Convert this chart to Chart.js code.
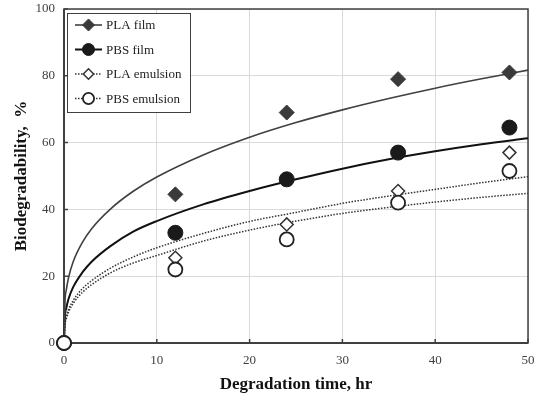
<!DOCTYPE html>
<html>
<head>
<meta charset="utf-8">
<script src="https://cdn.jsdelivr.net/npm/chart.js@4/dist/chart.umd.min.js"></script>
<style>
html,body{margin:0;padding:0;background:#fff;}
#c{display:block;}
</style>
</head>
<body>
<canvas id="c" width="540" height="395"></canvas>
<script>
// ---- data ----
const timeHr = [0, 12, 24, 36, 48];
const plaFilm = [0, 44.5, 69, 79, 81];
const pbsFilm = [0, 33, 49, 57, 64.5];
const plaEmulsion = [0, 25.5, 35.5, 45.5, 57];
const pbsEmulsion = [0, 22, 31, 42, 51.5];

// trend curves
const curveX = [0, 0.1, 0.25, 0.5, 1, 2, 3, 5, 7.5, 10, 15, 20, 25, 30, 35, 40, 45, 50];
const plaFilmFit = [0, 12.0, 15.9, 19.7, 24.4, 30.2, 34.3, 40.1, 45.5, 49.7, 56.3, 61.6, 66.0, 69.8, 73.2, 76.3, 79.1, 81.7];
const pbsFilmFit = [0, 8.0, 10.5, 13.3, 16.8, 21.2, 24.4, 29.0, 33.4, 36.5, 41.5, 45.5, 49.0, 52.2, 55.0, 57.4, 59.5, 61.3];
const plaEmulsionFit = [0, 5.8, 7.9, 10.1, 12.8, 16.3, 18.7, 22.4, 25.8, 28.5, 32.8, 36.4, 39.1, 41.8, 44.0, 46.0, 48.0, 49.8];
const pbsEmulsionFit = [0, 5.2, 7.2, 9.3, 11.9, 15.2, 17.5, 21.0, 24.0, 26.2, 30.5, 33.8, 36.5, 38.8, 40.6, 42.2, 43.6, 44.8];

const xTicks = [0, 10, 20, 30, 40, 50];
const yTicks = [0, 20, 40, 60, 80, 100];
const legendLabels = ['PLA film', 'PBS film', 'PLA emulsion', 'PBS emulsion'];
const xTitle = 'Degradation time, hr';
const yTitle = 'Biodegradability,  %';

const pts = (xs, ys) => xs.map((x, i) => ({x: x, y: ys[i]}));

const styles = [
  {point: 'rectRot', r: 7.5, fill: '#3a3a3a', stroke: '#3a3a3a', bw: 1, line: '#404040', lw: 1.6, dash: []},
  {point: 'circle', r: 7.5, fill: '#1a1a1a', stroke: '#1a1a1a', bw: 1, line: '#111', lw: 2, dash: []},
  {point: 'rectRot', r: 6.5, fill: '#fff', stroke: '#333', bw: 1.5, line: '#333', lw: 1.5, dash: [1.5, 1.5]},
  {point: 'circle', r: 7, fill: '#fff', stroke: '#222', bw: 1.8, line: '#333', lw: 1.5, dash: [1.5, 1.5]}
];
const series = [plaFilm, pbsFilm, plaEmulsion, pbsEmulsion];
const fits = [plaFilmFit, pbsFilmFit, plaEmulsionFit, pbsEmulsionFit];

const datasets = [];
fits.forEach((f, i) => {
  datasets.push({
    type: 'line', label: legendLabels[i] + ' fit', data: pts(curveX, f),
    borderColor: styles[i].line, borderWidth: styles[i].lw, borderDash: styles[i].dash,
    pointRadius: 0, fill: false, cubicInterpolationMode: 'monotone', order: 2, clip: false
  });
});
series.forEach((s, i) => {
  datasets.push({
    type: 'scatter', label: legendLabels[i], data: pts(timeHr, s),
    pointStyle: styles[i].point, pointRadius: styles[i].r, pointHoverRadius: styles[i].r,
    backgroundColor: styles[i].fill, borderColor: styles[i].stroke, pointBorderWidth: styles[i].bw,
    borderWidth: styles[i].bw, showLine: false, order: 1 - i * 0.1, clip: false
  });
});

const framePlugin = {
  id: 'frame',
  beforeDatasetsDraw(chart) {
    const {ctx, chartArea: a, scales} = chart;
    ctx.save();
    ctx.strokeStyle = '#404040';
    ctx.lineWidth = 1.5;
    ctx.strokeRect(a.left, a.top, a.right - a.left, a.bottom - a.top);
    ctx.lineWidth = 2;
    ctx.beginPath();
    ctx.moveTo(a.left, a.top); ctx.lineTo(a.left, a.bottom); ctx.lineTo(a.right, a.bottom);
    ctx.stroke();
    // inner ticks
    ctx.lineWidth = 1.5;
    ctx.beginPath();
    xTicks.forEach(v => { const px = scales.x.getPixelForValue(v); ctx.moveTo(px, a.bottom); ctx.lineTo(px, a.bottom - 4); });
    yTicks.forEach(v => { const py = scales.y.getPixelForValue(v); ctx.moveTo(a.left, py); ctx.lineTo(a.left + 4, py); });
    ctx.stroke();
    ctx.restore();
  },
  afterDraw(chart) {
    const {ctx, chartArea: a} = chart;
    const bx = a.left + 3, by = a.top + 4, bw = 123, bh = 99;
    ctx.save();
    ctx.fillStyle = '#fff';
    ctx.fillRect(bx, by, bw, bh);
    ctx.strokeStyle = '#404040';
    ctx.lineWidth = 1;
    ctx.strokeRect(bx + 0.5, by + 0.5, bw, bh);
    legendLabels.forEach((lab, i) => {
      const st = styles[i];
      const y = by + 12 + i * 24.5;
      const x0 = bx + 8, x1 = bx + 35, xm = (x0 + x1) / 2;
      ctx.strokeStyle = st.line;
      ctx.lineWidth = st.lw;
      ctx.setLineDash(st.dash);
      ctx.beginPath(); ctx.moveTo(x0, y); ctx.lineTo(x1, y); ctx.stroke();
      ctx.setLineDash([]);
      ctx.fillStyle = st.fill; ctx.strokeStyle = st.stroke; ctx.lineWidth = st.bw;
      Chart.helpers.drawPoint(ctx, {pointStyle: st.point, radius: st.r * 0.8, borderWidth: st.bw}, xm, y);
      ctx.fillStyle = '#222';
      ctx.font = '13px "Liberation Serif", serif';
      ctx.textBaseline = 'middle';
      ctx.textAlign = 'left';
      ctx.fillText(lab, x1 + 4, y + 1);
    });
    ctx.restore();
  }
};

new Chart(document.getElementById('c'), {
  data: {datasets: datasets},
  options: {
    responsive: false,
    animation: false,
    events: [],
    layout: {padding: {top: 9, right: 12, left: 0, bottom: 0}},
    plugins: {legend: {display: false}, tooltip: {enabled: false}},
    scales: {
      x: {
        type: 'linear', min: 0, max: 50,
        afterBuildTicks: s => { s.ticks = xTicks.map(v => ({value: v})); },
        afterFit: s => { s.height = 52; s.paddingLeft = 0; s.paddingRight = 0; },
        grid: {color: '#dadada', lineWidth: 1, drawTicks: false},
        border: {display: false},
        ticks: {padding: 10, color: '#404040', font: {family: '"Liberation Serif", serif', size: 13}},
        title: {display: true, text: xTitle, color: '#111', padding: {top: 4, bottom: 0},
          font: {family: '"Liberation Serif", serif', size: 17, weight: 'bold'}}
      },
      y: {
        type: 'linear', min: 0, max: 100,
        afterBuildTicks: s => { s.ticks = yTicks.map(v => ({value: v})); },
        afterFit: s => { s.width = 64; s.paddingTop = 0; s.paddingBottom = 0; },
        grid: {color: '#dadada', lineWidth: 1, drawTicks: false},
        border: {display: false},
        ticks: {padding: 9, color: '#404040', font: {family: '"Liberation Serif", serif', size: 13}},
        title: {display: true, text: yTitle, color: '#111', padding: {top: 11, bottom: 0},
          font: {family: '"Liberation Serif", serif', size: 17, weight: 'bold'}}
      }
    }
  },
  plugins: [framePlugin, {
    id: 'bg',
    beforeDraw(chart) { const c = chart.ctx; c.save(); c.fillStyle = '#fff'; c.fillRect(0, 0, chart.width, chart.height); c.restore(); }
  }]
});
</script>
</body>
</html>
